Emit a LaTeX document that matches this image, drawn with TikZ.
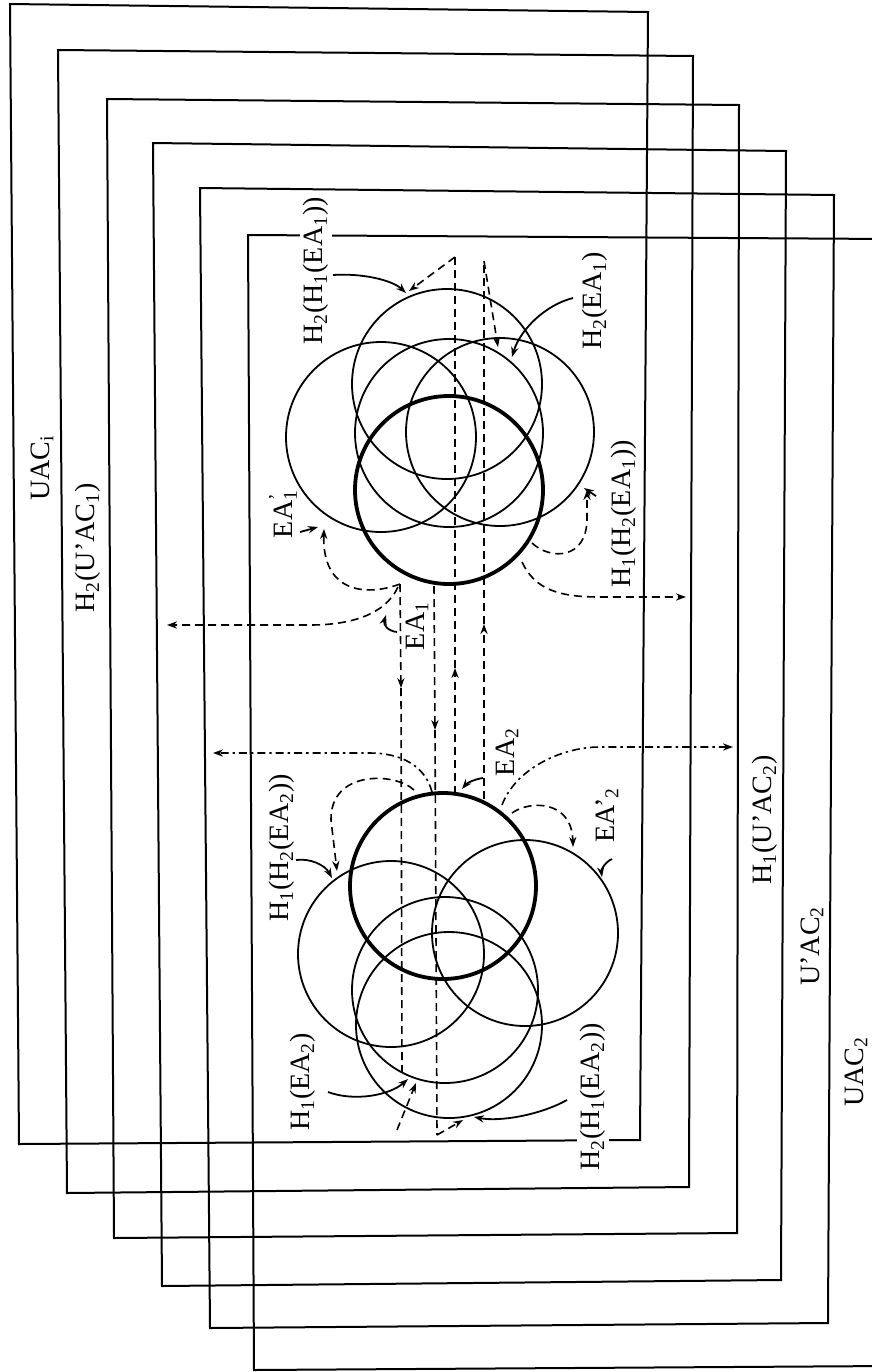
\documentclass[tikz,border=0pt]{standalone}
\usepackage{fontspec}
\setmainfont{Liberation Serif}
\usetikzlibrary{arrows.meta}
\newcommand\sbs[1]{\textsubscript{#1}}
\begin{document}
\begin{tikzpicture}[x=0.5pt,y=-0.5pt,
  frame/.style={line width=1pt, line join=miter},
  circ/.style={line width=0.9pt},
  bcirc/.style={line width=1.9pt},
  dsh/.style={line width=0.8pt, dash pattern=on 4pt off 2.5pt},
  dshdot/.style={line width=0.8pt, dash pattern=on 4pt off 2pt on 1.2pt off 2pt},
  sol/.style={line width=0.9pt},
  tip/.style={-{Stealth[length=5pt,width=3.6pt]}},
  lbl/.style={rotate=90, font=\fontsize{14}{16}\selectfont, inner sep=0.5pt},
  lblw/.style={lbl, fill=white, inner sep=1.5pt}]
\useasboundingbox (0,0) rectangle (872,1372);
\clip (0,0) rectangle (872,1372);
\fill[white] (0,0) rectangle (872,1372);

% ---- cascade of frames ----
\draw[frame] (10,4) -- (648,12) -- (640,1140) -- (19,1144) -- cycle;
\draw[frame] (58,50) -- (693,56) -- (689,1187) -- (67,1193) -- cycle;
\draw[frame] (107,99) -- (739,105) -- (737,1233) -- (114,1238) -- cycle;
\draw[frame] (153,143) -- (786,151) -- (781,1280) -- (162,1286) -- cycle;
\draw[frame] (200,188) -- (834,195) -- (828,1323) -- (210,1328) -- cycle;
\draw[frame] (248,235) -- (890,239) -- (890,1366) -- (254,1370) -- cycle;

% ---- upper cluster ----
\coordinate (uA) at (447,384);
\coordinate (uB) at (381,437);
\coordinate (uC) at (500,432);
\coordinate (uD) at (449,433);
\coordinate (uE) at (449,490);
\draw[circ] (uA) circle[radius=95];
\draw[circ] (uB) circle[radius=95];
\draw[circ] (uC) circle[radius=94];
\draw[circ] (uD) circle[radius=94];
\draw[bcirc] (uE) circle[radius=94];

% ---- lower cluster ----
\coordinate (lB) at (443,886);
\coordinate (lR) at (525,933);
\coordinate (lL) at (391,954);
\coordinate (lF) at (445,990);
\coordinate (lG) at (449,1025);
\draw[bcirc] (lB) circle[radius=93];
\draw[circ] (lR) circle[radius=93];
\draw[circ] (lL) circle[radius=93];
\draw[circ] (lF) circle[radius=93];
\draw[circ] (lG) circle[radius=93];

% ---- vertical dashed flows ----
\coordinate (v1t) at (455,257); \coordinate (v1m) at (455,668); \coordinate (v1b) at (455,794);
\coordinate (v2t) at (484,261); \coordinate (v2m) at (484,624); \coordinate (v2b) at (484,799);
\coordinate (v3t) at (400,584); \coordinate (v3m) at (401,688); \coordinate (v3b) at (402,1072);
\coordinate (v4t) at (434,586); \coordinate (v4m) at (435,730); \coordinate (v4b) at (437,1135);
\draw[dsh] (v1m) -- (v1t);
\draw[dsh,tip] (v1b) -- (v1m);
\draw[dsh] (v2m) -- (v2t);
\draw[dsh,tip] (v2b) -- (v2m);
\draw[dsh,tip] (v3t) -- (v3m);
\draw[dsh] (v3m) -- (v3b);
\draw[dsh,tip] (v4t) -- (v4m);
\draw[dsh] (v4m) -- (v4b);

% ---- upper arrows ----
\coordinate (tA) at (409,291);
\coordinate (tC) at (498,347);
\draw[dsh,tip] (v1t) -- (tA);
\draw[dsh,tip] (v2t) -- (tC);
\coordinate (sAs) at (333,275); \coordinate (sAe) at (406,293);
\draw[sol,tip] (sAs) .. controls (362,273) and (392,280) .. (sAe);
\coordinate (sCs) at (573,298); \coordinate (sCe) at (512,357);
\draw[sol,tip] (sCs) .. controls (545,305) and (520,330) .. (sCe);
\coordinate (eaq1) at (324,529);
\draw[dsh,tip] (v3t) .. controls (365,597) and (322,592) .. (eaq1);
\coordinate (eaq1s) at (300,532); \coordinate (eaq1e) at (318,527);
\draw[sol,tip] (eaq1s) -- (eaq1e);
\coordinate (lft1) at (167,625);
\draw[dsh,tip] (398,587) .. controls (385,615) and (350,625) .. (310,625) -- (lft1);
\coordinate (hh1s) at (532,543); \coordinate (hh1e) at (587,490);
\draw[dsh,tip] (hh1s) .. controls (550,560) and (586,560) .. (587,520) -- (hh1e);
\coordinate (hh1a) at (596,496); \coordinate (hh1b) at (584,488);
\draw[sol,tip] (hh1a) -- (hh1b);
\coordinate (rgt1s) at (522,562); \coordinate (rgt1) at (686,597);
\draw[dsh,tip] (rgt1s) .. controls (535,590) and (560,597) .. (600,597) -- (rgt1);
\coordinate (ea1s) at (397,632); \coordinate (ea1e) at (386,615);
\draw[sol,tip] (ea1s) .. controls (388,631) and (383,625) .. (ea1e);

% ---- lower arrows ----
\coordinate (ea2s) at (483,778); \coordinate (ea2e) at (462,789);
\draw[sol,tip] (ea2s) .. controls (475,779) and (467,783) .. (ea2e);
\coordinate (hh2s) at (414,790); \coordinate (hh2e) at (337,871);
\draw[dsh,tip] (hh2s) .. controls (395,772) and (330,770) .. (331,820) -- (hh2e);
\coordinate (hh2a) at (296,860); \coordinate (hh2b) at (332,878);
\draw[sol,tip] (hh2a) .. controls (310,858) and (325,865) .. (hh2b);
\coordinate (lft2s) at (432,792); \coordinate (lft2) at (213,753);
\draw[dshdot,tip] (lft2s) .. controls (425,765) and (400,753) .. (370,753) -- (lft2);
\coordinate (rgt2s) at (502,805); \coordinate (rgt2) at (733,747);
\draw[dshdot,tip] (rgt2s) .. controls (515,770) and (560,747) .. (600,747) -- (rgt2);
\coordinate (eaq2s) at (512,813); \coordinate (eaq2e) at (573,847);
\draw[dsh,tip] (eaq2s) .. controls (530,800) and (572,800) .. (eaq2e);
\coordinate (eaq2a) at (612,859); \coordinate (eaq2b) at (602,877);
\draw[sol,tip] (eaq2a) .. controls (605,862) and (601,870) .. (eaq2b);
\coordinate (h1e2s) at (328,1092); \coordinate (h1e2e) at (408,1079);
\draw[sol,tip] (h1e2s) .. controls (355,1102) and (390,1095) .. (h1e2e);
\coordinate (dba) at (397,1130); \coordinate (dbb) at (416,1083);
\draw[dsh,tip] (dba) -- (dbb);
\coordinate (dgb) at (463,1120);
\draw[dsh,tip] (v4b) -- (dgb);
\coordinate (h2h1s) at (567,1100); \coordinate (h2h1e) at (474,1117);
\draw[sol,tip] (h2h1s) .. controls (540,1115) and (500,1122) .. (h2h1e);

% ---- labels ----
\node[lblw] (L1) at (316,271) {H\sbs{2}(H\sbs{1}(EA\sbs{1}))};
\node[lbl] (L2) at (595,301) {H\sbs{2}(EA\sbs{1})};
\node[lbl] (L3) at (624,514) {H\sbs{1}(H\sbs{2}(EA\sbs{1}))};
\node[lbl] (L4) at (283,514) {EA\rlap{\textsuperscript{’}}\sbs{1}};
\node[lbl] (L5) at (417,626) {EA\sbs{1}};
\node[lbl] (L6) at (507,752) {EA\sbs{2}};
\node[lbl] (L7) at (607,815) {EA’\sbs{2}};
\node[lbl] (L8) at (282,848) {H\sbs{1}(H\sbs{2}(EA\sbs{2}))};
\node[lbl] (L9) at (303,1082) {H\sbs{1}(EA\sbs{2})};
\node[lblw] (L10) at (593,1097) {H\sbs{2}(H\sbs{1}(EA\sbs{2}))};
\node[lbl] (L11) at (42,468) {UAC\sbs{i}};
\node[lbl] (L12) at (88,548) {H\sbs{2}(U’AC\sbs{1})};
\node[lbl] (L13) at (765,820) {H\sbs{1}(U’AC\sbs{2})};
\node[lbl] (L14) at (812,946) {U’AC\sbs{2}};
\node[lbl] (L15) at (856,1072) {UAC\sbs{2}};
\end{tikzpicture}
\end{document}
